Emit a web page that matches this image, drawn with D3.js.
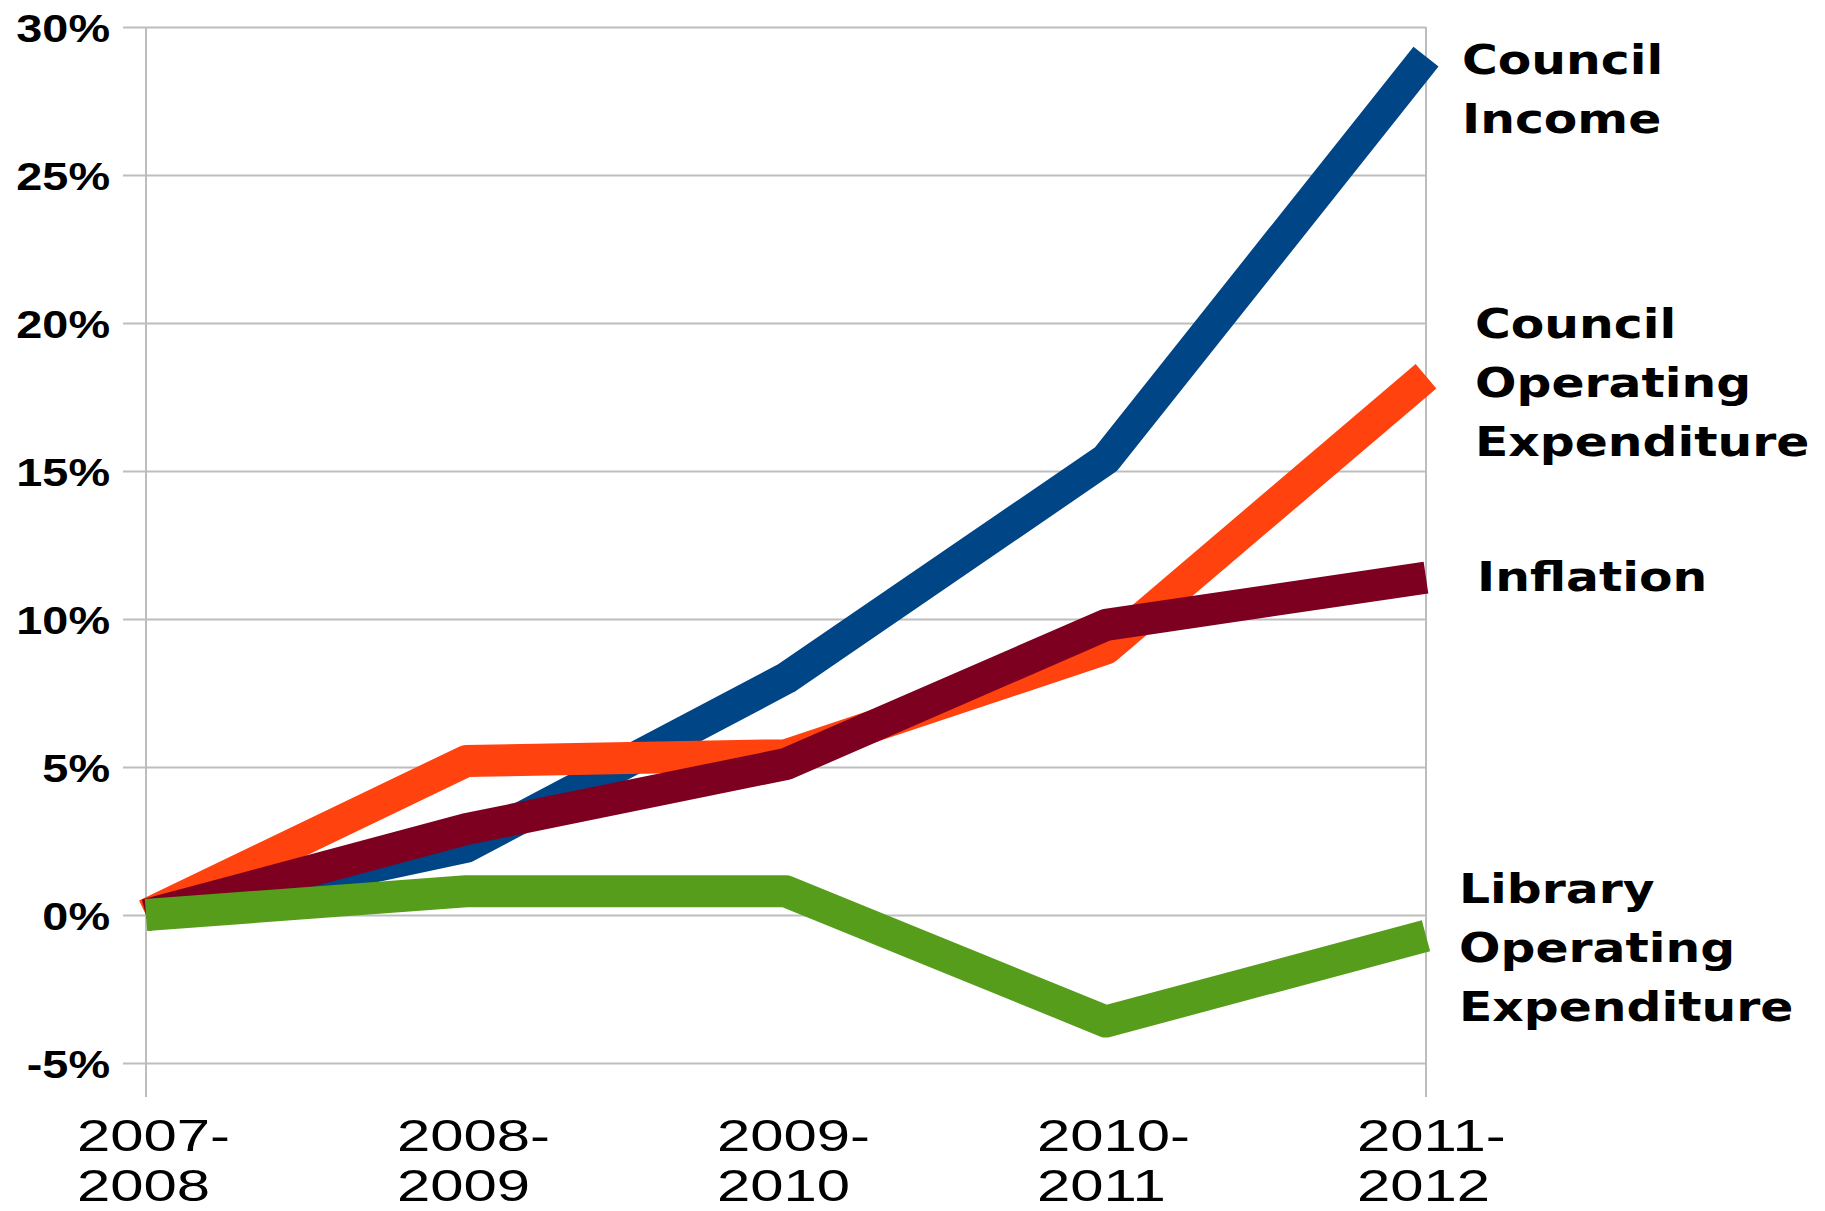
<!DOCTYPE html>
<html>
<head>
<meta charset="utf-8">
<script src="https://cdn.jsdelivr.net/npm/d3@7"></script>
<style>
  body { margin: 0; background: #fff; }
</style>
</head>
<body>
<script>
// data (percent change since 2007-2008)
var categories = ["2007-2008", "2008-2009", "2009-2010", "2010-2011", "2011-2012"];
var councilIncome = [0, 2.3, 8.0, 15.4, 29.0];
var councilOpex = [0, 5.2, 5.4, 9.0, 18.2];
var inflation = [0, 2.9, 5.1, 9.8, 11.4];
var libraryOpex = [0, 0.8, 0.8, -3.6, -0.7];
var yTicks = [-5, 0, 5, 10, 15, 20, 25, 30];
var seriesLabels = [
  ["Council", "Income"],
  ["Council", "Operating", "Expenditure"],
  ["Inflation"],
  ["Library", "Operating", "Expenditure"]
];

var colors = ["#004586", "#ff420e", "#7e0021", "#579d1c"];
// hand placed labels: offset from the last point of each line
var labelOffsets = [[36, 17], [49, -38], [51, 13], [33, -33]];

var series = [councilIncome, councilOpex, inflation, libraryOpex];

var svg = d3.select("body")
  .append("svg")
  .attr("width", 1825)
  .attr("height", 1211);

var x = d3.scalePoint()
  .domain(categories)
  .range([146, 1426]);

var y = d3.scaleLinear()
  .domain([-5, 30])
  .range([1063, 27]);

var left = x(categories[0]), right = x(categories[categories.length - 1]);

// gridlines + y labels
var yAxis = svg.append("g")
  .attr("transform", "translate(123,0)")
  .call(d3.axisLeft(y)
    .tickValues(yTicks)
    .tickSize(-(right - 123))
    .tickFormat(function(d) { return d + "%"; }));

yAxis.select(".domain").remove();
yAxis.selectAll(".tick line")
  .style("stroke", "#bdbdbd")
  .style("stroke-width", 2);
yAxis.selectAll(".tick text")
  .attr("x", 0)
  .attr("dy", "0.38em")
  .attr("transform", "translate(-13,0) scale(1.2,1)")
  .style("font-family", "'Liberation Sans', Arial, sans-serif")
  .style("font-weight", "bold")
  .style("font-size", "39px")
  .style("fill", "#000");

// the two vertical frame lines
svg.selectAll(".vline")
  .data([left, right])
  .enter().append("line")
  .attr("x1", function(d) { return d; })
  .attr("x2", function(d) { return d; })
  .attr("y1", y(30))
  .attr("y2", 1097)
  .style("stroke", "#bdbdbd")
  .style("stroke-width", 2);

// x labels on two lines
var xLab = svg.selectAll(".xlab")
  .data(categories)
  .enter().append("text")
  .attr("transform", function(d) { return "translate(" + (x(d) - 69) + ",1151) scale(1.36,1)"; })
  .style("font-family", "'Liberation Sans', Arial, sans-serif")
  .style("font-size", "44px")
  .style("fill", "#000");

xLab.append("tspan")
  .attr("x", 0)
  .text(function(d) { return d.split("-")[0] + "-"; });
xLab.append("tspan")
  .attr("x", 0)
  .attr("dy", 50)
  .text(function(d) { return d.split("-")[1]; });

// lines
var line = d3.line()
  .x(function(d, i) { return x(categories[i]); })
  .y(function(d) { return y(d); });

svg.selectAll(".series")
  .data(series)
  .enter().append("path")
  .attr("d", line)
  .style("fill", "none")
  .style("stroke", function(d, i) { return colors[i]; })
  .style("stroke-width", 32)
  .style("stroke-linejoin", "round")
  .style("stroke-linecap", "butt");

// labels at the line ends
var lab = svg.selectAll(".lab")
  .data(series)
  .enter().append("text")
  .attr("transform", function(d, i) {
    return "translate(" + (right + labelOffsets[i][0]) + "," + (y(d[d.length - 1]) + labelOffsets[i][1]) + ") scale(1.22,1)";
  })
  .style("font-family", "'DejaVu Sans', sans-serif")
  .style("font-weight", "bold")
  .style("font-size", "40px")
  .style("fill", "#000");

lab.selectAll("tspan")
  .data(function(d, i) { return seriesLabels[i]; })
  .enter().append("tspan")
  .attr("x", 0)
  .attr("dy", function(d, i) { return i == 0 ? 0 : 59; })
  .text(function(d) { return d; });
</script>
</body>
</html>
